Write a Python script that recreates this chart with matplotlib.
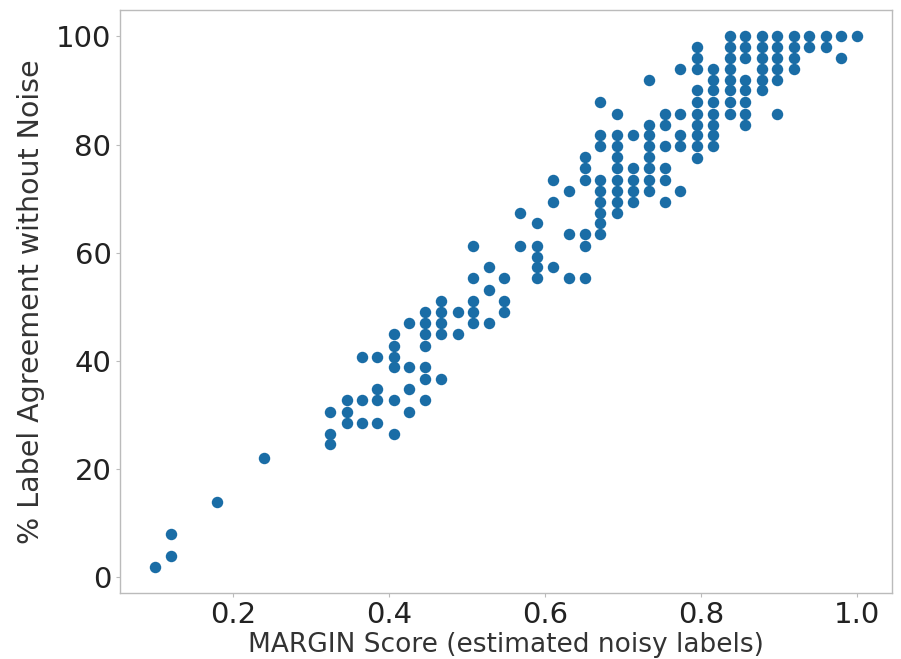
import matplotlib
matplotlib.use("Agg")
import matplotlib.pyplot as plt

# MARGIN score values (x) and % label agreement (y), read column by column
margin_score = (
    [0.10] + [0.12] * 2 + [0.18] + [0.24]
    + [0.325] * 3 + [0.346] * 3 + [0.365] * 3 + [0.385] * 4
    + [0.406] * 6 + [0.426] * 4 + [0.446] * 7 + [0.467] * 5
    + [0.488] * 2 + [0.508] * 5 + [0.528] * 3 + [0.548] * 3
    + [0.568] * 2 + [0.590] * 5 + [0.610] * 3 + [0.631] * 3
    + [0.651] * 6 + [0.671] * 9 + [0.692] * 9 + [0.713] * 5
    + [0.733] * 8 + [0.754] * 6 + [0.773] * 5 + [0.795] * 10
    + [0.816] * 8 + [0.837] * 8 + [0.857] * 8 + [0.878] * 6
    + [0.898] * 6 + [0.919] * 4 + [0.939] * 2 + [0.960] * 2
    + [0.980] * 2 + [1.0]
)

agreement = [
    2.0,
    4.0, 8.0,
    14.0,
    22.0,
    30.5, 26.5, 24.7,
    32.7, 30.5, 28.5,
    40.8, 32.7, 28.5,
    40.8, 34.8, 32.7, 28.5,
    45.0, 42.8, 40.8, 38.8, 32.7, 26.5,
    47.1, 38.8, 34.8, 30.5,
    49.0, 47.1, 45.0, 42.8, 38.8, 36.7, 32.7,
    51.1, 49.0, 47.1, 45.0, 36.7,
    49.0, 45.0,
    61.3, 55.3, 51.1, 49.0, 47.1,
    57.3, 53.1, 47.1,
    55.3, 51.1, 49.0,
    67.4, 61.3,
    65.5, 61.3, 59.2, 57.3, 55.3,
    73.4, 69.4, 57.3,
    71.4, 63.4, 55.3,
    77.7, 75.7, 73.4, 63.4, 61.3, 55.3,
    87.8, 81.8, 79.7, 73.4, 71.4, 69.4, 67.4, 65.5, 63.4,
    85.7, 81.8, 79.7, 77.7, 75.7, 73.4, 71.4, 69.4, 67.4,
    81.8, 75.7, 73.4, 71.4, 69.4,
    91.9, 83.7, 81.8, 79.7, 77.7, 75.7, 73.4, 71.4,
    85.7, 83.7, 79.7, 75.7, 73.4, 69.4,
    93.9, 85.7, 81.8, 79.7, 71.4,
    98.0, 96.0, 93.9, 90.0, 87.8, 85.7, 83.7, 81.8, 79.7, 77.6,
    93.9, 91.9, 90.0, 87.8, 85.7, 83.7, 81.8, 79.7,
    100.0, 98.0, 96.0, 93.9, 91.9, 90.0, 87.8, 85.7,
    100.0, 98.0, 96.0, 91.9, 90.0, 87.8, 85.7, 83.7,
    100.0, 98.0, 96.0, 93.9, 91.9, 90.0,
    100.0, 98.0, 96.0, 93.9, 91.9, 85.7,
    100.0, 98.0, 96.0, 93.9,
    100.0, 98.0,
    100.0, 98.0,
    100.0, 96.0,
    100.0,
]

x_ticks = [0.2, 0.4, 0.6, 0.8, 1.0]
y_ticks = [0, 20, 40, 60, 80, 100]

fig = plt.figure(figsize=(9.01, 6.59), dpi=100)
ax = fig.add_axes([0.133, 0.100, 0.857, 0.885])

ax.scatter(margin_score, agreement, s=68, color="#1a6da6", linewidths=0)

ax.set_xticks(x_ticks)
ax.set_xticklabels([f"{t:.1f}" for t in x_ticks])
ax.set_yticks(y_ticks)
ax.tick_params(axis="both", labelsize=21, colors="#bbbbbb", labelcolor="#222222",
               length=3, pad=3)
ax.set_xlabel("MARGIN Score (estimated noisy labels)", fontsize=19,
              color="#333333", labelpad=2)
ax.set_ylabel("% Label Agreement without Noise", fontsize=20.5,
              color="#333333", labelpad=8)
for s in ax.spines.values():
    s.set_color("#bbbbbb")
    s.set_linewidth(1.0)

fig.savefig("out.png", dpi=100, facecolor="white")
